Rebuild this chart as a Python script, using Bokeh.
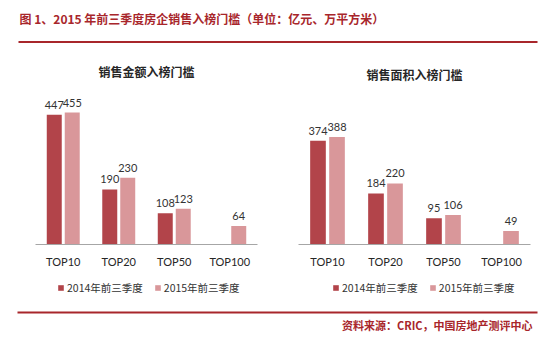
from bokeh.plotting import figure
from bokeh.models import ColumnDataSource, FactorRange, Range1d, LabelSet, Legend, LegendItem
from bokeh.transform import dodge
from bokeh.layouts import column, row
from bokeh.core.properties import value
from bokeh.embed import file_html
from bokeh.resources import INLINE

# ---- data ----
categories = ["TOP10", "TOP20", "TOP50", "TOP100"]
series_names = ["2014年前三季度", "2015年前三季度"]
amount_2014 = [447, 190, 108, None]
amount_2015 = [455, 230, 123, 64]
area_2014 = [374, 184, 95, None]
area_2015 = [388, 220, 106, 49]
main_title = "图 1、2015 年前三季度房企销售入榜门槛（单位：亿元、万平方米）"
left_title = "销售金额入榜门槛"
right_title = "销售面积入榜门槛"
source_note = "资料来源：CRIC，中国房地产测评中心"

DARK = "#B2444A"
LIGHT = "#D9979A"
RED = "#A8262B"
CJK = "Noto Sans CJK SC"


def src(vals):
    c = [k for k, v in zip(categories, vals) if v is not None]
    v = [x for x in vals if x is not None]
    return ColumnDataSource(dict(cat=c, v=v, t=[str(x) for x in v]))


def chart(title, s14, s15, ymax, bl, br, off, bw, tstand):
    p = figure(x_range=FactorRange(*categories), y_range=Range1d(0, ymax),
               width=275, height=228, output_backend="svg", toolbar_location=None,
               min_border_left=bl, min_border_right=br, min_border_top=42,
               min_border_bottom=32, y_axis_location=None, title=title,
               sizing_mode="fixed")
    p.title.align = "center"
    p.title.text_font = CJK
    p.title.text_font_size = "12px"
    p.title.text_font_style = "bold"
    p.title.text_color = "#262626"
    p.title.standoff = tstand
    p.outline_line_color = None
    p.grid.visible = False
    p.vbar(x=dodge("cat", -off, range=p.x_range), top="v", width=bw, source=s14,
           fill_color=DARK, line_color=None)
    p.vbar(x=dodge("cat", off, range=p.x_range), top="v", width=bw, source=s15,
           fill_color=LIGHT, line_color=None)
    for s, o in ((s14, -off), (s15, off)):
        p.add_layout(LabelSet(x=dodge("cat", o, range=p.x_range), y="v", text="t", source=s,
                              y_offset=6, text_align="center", text_baseline="bottom",
                              text_font=value("Lato"), text_font_size="11px",
                              text_color="#333333"))
    ax = p.xaxis[0]
    ax.axis_line_color = "#A6A6A6"
    ax.major_tick_line_color = None
    ax.minor_tick_line_color = None
    ax.major_label_standoff = 4
    ax.major_label_text_font = "Lato"
    ax.major_label_text_font_size = "11px"
    ax.major_label_text_color = "#262626"
    return p


a14, a15 = src(amount_2014), src(amount_2015)
r14, r15 = src(area_2014), src(area_2015)
left = chart(left_title, a14, a15, 524, 35, 18, 0.162, 0.27, 25)
right = chart(right_title, r14, r15, 548, 23, 20, 0.164, 0.27, 20)

# legend strip under both charts (zero-width helper bars carry the legend swatches)
strip = figure(width=550, height=24, x_range=FactorRange(*categories), y_range=Range1d(0, 1),
               output_backend="svg", toolbar_location=None, min_border=0,
               x_axis_location=None, y_axis_location=None, outline_line_color=None,
               sizing_mode="fixed")
strip.grid.visible = False
k1 = strip.vbar(x="cat", top="v", bottom="v", width=0, source=a14,
                fill_color=DARK, line_color=None)
k2 = strip.vbar(x="cat", top="v", bottom="v", width=0, source=a15,
                fill_color=LIGHT, line_color=None)
for lx in (57, 332):
    strip.add_layout(Legend(items=[LegendItem(label=series_names[0], renderers=[k1]),
                                   LegendItem(label=series_names[1], renderers=[k2])],
                            orientation="horizontal", location=(lx, 5),
                            glyph_width=7, glyph_height=7, label_text_font=CJK,
                            label_text_font_size="10.5px", label_text_color="#333333",
                            label_standoff=3, spacing=11, padding=0, margin=0,
                            border_line_color=None, background_fill_alpha=0,
                            label_height=10))

header = figure(width=550, height=48, x_range=Range1d(0, 550), y_range=Range1d(48, 0),
                output_backend="svg", toolbar_location=None, min_border=0,
                x_axis_location=None, y_axis_location=None, outline_line_color=None,
                sizing_mode="fixed")
header.grid.visible = False
header.text(x=[19], y=[18], text=[main_title], text_font=value(CJK), text_font_size="12px",
            text_font_style="bold", text_color=RED, text_baseline="middle", text_align="left")
header.segment(x0=[18], y0=[41.5], x1=[537], y1=[41.5], line_color=RED, line_width=2)

footer = figure(width=550, height=54, x_range=Range1d(0, 550), y_range=Range1d(54, 0),
                output_backend="svg", toolbar_location=None, min_border=0,
                x_axis_location=None, y_axis_location=None, outline_line_color=None,
                sizing_mode="fixed")
footer.grid.visible = False
footer.segment(x0=[17], y0=[12], x1=[537], y1=[12], line_color=RED, line_width=2)
footer.text(x=[532], y=[24], text=[source_note], text_font=value(CJK), text_font_size="11px",
            text_font_style="bold", text_color=RED, text_baseline="middle", text_align="right")

page = column(header, row(left, right, sizing_mode="fixed"), strip, footer, sizing_mode="fixed")
open("out.html", "w").write(file_html(page, INLINE))
